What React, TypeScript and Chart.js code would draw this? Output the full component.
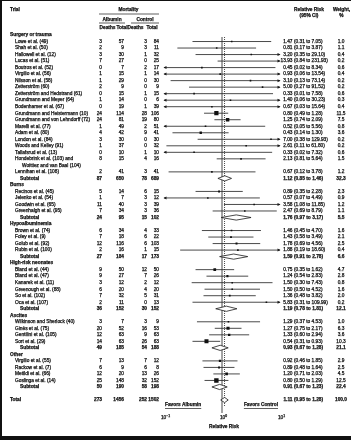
import React, { useEffect, useRef } from "react";
import { Chart, registerables } from "chart.js";

Chart.register(...registerables);

// ---------------- DATA ----------------
const groupNames = ["Surgery or trauma", "Burns", "Hypoalbuminemia", "High-risk neonates", "Ascites", "Other"];

const trialNames = [
  "Lowe et al. (49)", "Shah et al. (50)", "Hallowell et al. (12)", "Lucas et al. (51)", "Boutros et al. (52)",
  "Virgilio et al. (56)", "Nilsson et al. (58)", "Zetterström (60)", "Zetterström and Hedstrand (61)",
  "Grundmann and Meyer (64)", "Bodenhamer et al. (67)", "Grundmann and Heistermann (10)",
  "Grundmann and von Lehndorff (72)", "Marelli et al. (77)", "Adam et al. (80)", "London et al. (84)",
  "Woods and Kelley (91)", "Tallafsrud et al. (13)", "Hondebrink et al. (103) and\nWoittiez and van Baal (104)",
  "Lennihan et al. (108)",
  "Recinos et al. (45)", "Jelenko et al. (54)", "Goodwin et al. (65)", "Greenhalgh et al. (95)",
  "Brown et al. (74)", "Foley et al. (9)", "Golub et al. (92)", "Rubin et al. (100)",
  "Bland et al. (44)", "Bland et al. (47)", "Kanarek et al. (11)", "Greenough et al. (88)", "So et al. (102)", "Oca et al. (107)",
  "Wilkinson and Sherlock (40)", "Ginès et al. (75)", "Gentilini et al. (105)", "Sort et al. (29)",
  "Virgilio et al. (55)", "Rackow et al. (7)", "Metildi et al. (66)", "Goslinga et al. (14)",
];
const trialGroup = [
  0, 0, 0, 0, 0, 0, 0, 0, 0, 0, 0, 0, 0, 0, 0, 0, 0, 0, 0, 0,
  1, 1, 1, 1,
  2, 2, 2, 2,
  3, 3, 3, 3, 3, 3,
  4, 4, 4, 4,
  5, 5, 5, 5,
];
const albuminDeaths = [3, 2, 3, 7, 0, 1, 1, 2, 0, 1, 0, 24, 24, 1, 4, 3, 1, 0, 8, 2, 5, 1, 11, 7, 6, 7, 12, 2, 9, 9, 3, 6, 7, 2, 3, 20, 12, 14, 7, 6, 12, 25];
const albuminTotal = [57, 9, 30, 27, 7, 15, 29, 9, 15, 14, 19, 114, 81, 49, 42, 30, 37, 10, 15, 41, 14, 7, 40, 34, 34, 18, 116, 16, 50, 27, 12, 20, 32, 11, 7, 52, 63, 63, 13, 9, 20, 148];
const controlDeaths = [3, 3, 1, 0, 2, 1, 0, 0, 1, 0, 1, 28, 19, 2, 9, 0, 0, 1, 4, 3, 6, 3, 3, 3, 4, 6, 6, 1, 12, 7, 2, 4, 5, 0, 3, 16, 9, 26, 7, 6, 13, 32];
const controlTotal = [84, 11, 32, 25, 17, 14, 30, 9, 15, 6, 39, 106, 80, 51, 41, 30, 32, 10, 16, 41, 15, 12, 39, 36, 33, 22, 103, 15, 50, 26, 12, 20, 31, 13, 9, 53, 63, 63, 12, 8, 26, 152];
const relRisk = [1.47, 0.81, 3.2, 13.93, 0.45, 0.93, 3.1, 5.0, 0.33, 1.4, 0.67, 0.8, 1.25, 0.52, 0.43, 7.0, 2.61, 0.33, 2.13, 0.67, 0.89, 0.57, 3.58, 2.47, 1.46, 1.43, 1.78, 1.88, 0.75, 1.24, 1.5, 1.5, 1.36, 5.83, 1.29, 1.27, 1.33, 0.54, 0.92, 0.89, 1.2, 0.8];
const ciLower = [0.31, 0.17, 0.35, 0.84, 0.02, 0.06, 0.13, 0.27, 0.01, 0.06, 0.03, 0.49, 0.74, 0.05, 0.14, 0.38, 0.11, 0.02, 0.81, 0.12, 0.35, 0.07, 1.08, 0.69, 0.45, 0.58, 0.69, 0.19, 0.35, 0.54, 0.3, 0.5, 0.48, 0.31, 0.37, 0.75, 0.6, 0.31, 0.46, 0.48, 0.71, 0.5];
const ciUpper = [7.05, 3.87, 29.1, 231.93, 8.34, 13.54, 73.14, 91.52, 7.58, 30.23, 15.64, 1.28, 2.09, 5.56, 1.3, 129.93, 61.8, 7.32, 5.64, 3.78, 2.28, 4.49, 11.85, 8.79, 4.7, 3.49, 4.56, 18.6, 1.62, 2.83, 7.43, 4.52, 3.82, 109.99, 4.53, 2.17, 2.94, 0.93, 1.85, 1.64, 2.03, 1.29];
const weightPct = [1.0, 1.1, 0.4, 0.2, 0.6, 0.4, 0.2, 0.2, 0.6, 0.3, 0.4, 11.5, 7.5, 0.8, 3.6, 0.2, 0.2, 0.6, 1.5, 1.2, 2.3, 0.9, 1.2, 1.1, 1.6, 2.1, 2.5, 0.4, 4.7, 2.8, 0.8, 1.6, 2.0, 0.2, 1.0, 6.3, 3.6, 10.3, 2.9, 2.5, 4.5, 12.5];

const subAlbDeaths = [87, 24, 27, 36, 49, 50];
const subAlbTotal = [650, 95, 184, 152, 185, 190];
const subCtlDeaths = [78, 15, 17, 30, 54, 58];
const subCtlTotal = [689, 102, 173, 152, 188, 198];
const subRR = [1.12, 1.76, 1.59, 1.19, 0.93, 0.91];
const subLower = [0.85, 0.97, 0.91, 0.78, 0.67, 0.67];
const subUpper = [1.46, 3.17, 2.78, 1.81, 1.28, 1.23];
const subWeight = [32.3, 5.5, 6.6, 12.1, 21.1, 22.4];

const totalCounts = [273, 1456, 252, 1502];
const totalRR = 1.11;
const totalLower = 0.95;
const totalUpper = 1.28;
const totalWeight = 100.0;

const axisMin = 0.1;
const axisMax = 10;
const tickValues = [0.1, 1, 10];
const tickExponents = ["−1", "0", "1"];

// ---------------- LAYOUT OF ROWS ----------------
type RowItem = { kind: "group" | "trial" | "subtotal" | "total"; row: number; i: number };
const rowItems: RowItem[] = [];
let rr = 0;
groupNames.forEach((_, gi) => {
  rowItems.push({ kind: "group", row: rr++, i: gi });
  trialNames.forEach((n, ti) => {
    if (trialGroup[ti] !== gi) return;
    rowItems.push({ kind: "trial", row: rr, i: ti });
    rr += n.split("\n").length;
  });
  rowItems.push({ kind: "subtotal", row: rr++, i: gi });
});
rr++;
rowItems.push({ kind: "total", row: rr, i: 0 });
const lastRow = rr;

const FONT = '"Liberation Sans", Arial, Helvetica, sans-serif';
const INK = "#111";

const f2 = (v: number) => v.toFixed(2);
const f1 = (v: number) => v.toFixed(1);

function drawText(ctx: CanvasRenderingContext2D, s: string, x: number, y: number, size: number, align: CanvasTextAlign = "left", weight = "normal") {
  ctx.font = `${weight} ${size}px ${FONT}`;
  ctx.textAlign = align;
  ctx.textBaseline = "middle";
  ctx.fillStyle = INK;
  ctx.fillText(s, x, y);
  ctx.strokeStyle = INK;
  ctx.lineWidth = 0.25;
  ctx.strokeText(s, x, y);
}

function hline(ctx: CanvasRenderingContext2D, x1: number, x2: number, y: number) {
  ctx.beginPath();
  ctx.moveTo(x1, y);
  ctx.lineTo(x2, y);
  ctx.stroke();
}

const COL_AD = 102;
const COL_AT = 124;
const COL_CD = 147;
const COL_CT = 159;
const COL_RR = 292.5;
const COL_CI = 294;
const COL_W = 341;
const FS = 4.8;

const forestPlugin = {
  id: "forest",
  beforeDatasetsDraw(chart: any) {
    const { ctx } = chart;
    const xs = chart.scales.x;
    const ys = chart.scales.y;
    ctx.save();
    // reference lines
    ctx.strokeStyle = "#1a1a1a";
    ctx.lineWidth = 0.8;
    const x1 = xs.getPixelForValue(1);
    ctx.beginPath();
    ctx.moveTo(x1, ys.getPixelForValue(0) + 2);
    ctx.lineTo(x1, 413);
    ctx.stroke();
    const xd = xs.getPixelForValue(totalRR);
    ctx.setLineDash([1, 1]);
    ctx.beginPath();
    ctx.moveTo(xd, ys.getPixelForValue(0) + 2);
    ctx.lineTo(xd, 407);
    ctx.stroke();
    ctx.setLineDash([]);

    // confidence intervals
    const left = xs.getPixelForValue(axisMin);
    const right = xs.getPixelForValue(axisMax);
    ctx.strokeStyle = "#2a2a2a";
    ctx.fillStyle = "#1a1a1a";
    ctx.lineWidth = 0.85;
    rowItems.forEach((it) => {
      if (it.kind !== "trial") return;
      const y = ys.getPixelForValue(it.row);
      const lo = xs.getPixelForValue(Math.max(ciLower[it.i], axisMin));
      const hi = xs.getPixelForValue(Math.min(ciUpper[it.i], axisMax));
      hline(ctx, lo, hi, y);
      if (ciUpper[it.i] > axisMax) {
        ctx.beginPath();
        ctx.moveTo(right + 0.5, y);
        ctx.lineTo(right - 2.5, y - 1.5);
        ctx.lineTo(right - 2.5, y + 1.5);
        ctx.closePath();
        ctx.fill();
      }
      if (ciLower[it.i] < axisMin) {
        ctx.beginPath();
        ctx.moveTo(left - 0.5, y);
        ctx.lineTo(left + 2.5, y - 1.5);
        ctx.lineTo(left + 2.5, y + 1.5);
        ctx.closePath();
        ctx.fill();
      }
    });
    ctx.restore();
  },
  afterDatasetsDraw(chart: any) {
    const { ctx } = chart;
    const xs = chart.scales.x;
    const ys = chart.scales.y;
    ctx.save();

    const diamond = (est: number, lo: number, hi: number, row: number) => {
      const y = ys.getPixelForValue(row);
      const pl = xs.getPixelForValue(lo);
      const pe = xs.getPixelForValue(est);
      const ph = xs.getPixelForValue(hi);
      ctx.beginPath();
      ctx.moveTo(pl, y);
      ctx.lineTo(pe, y - 2.6);
      ctx.lineTo(ph, y);
      ctx.lineTo(pe, y + 2.6);
      ctx.closePath();
      ctx.fillStyle = "#fff";
      ctx.fill();
      ctx.strokeStyle = "#1a1a1a";
      ctx.lineWidth = 0.8;
      ctx.stroke();
    };

    // header
    drawText(ctx, "Trial", 10, 10, FS, "left", "bold");
    drawText(ctx, "Mortality", 128.5, 10, FS, "center", "bold");
    ctx.strokeStyle = "#1a1a1a";
    ctx.lineWidth = 0.7;
    hline(ctx, 99, 159, 14);
    drawText(ctx, "Albumin", 112, 19.5, FS, "center", "bold");
    drawText(ctx, "Control", 145, 19.5, FS, "center", "bold");
    ctx.strokeStyle = "#1a1a1a";
    ctx.lineWidth = 0.7;
    hline(ctx, 99, 125, 23);
    hline(ctx, 131, 159, 23);
    drawText(ctx, "Deaths", 107.5, 27.5, FS, "center", "bold");
    drawText(ctx, "Total", 122, 27.5, FS, "center", "bold");
    drawText(ctx, "Deaths", 135.5, 27.5, FS, "center", "bold");
    drawText(ctx, "Total", 152, 27.5, FS, "center", "bold");
    drawText(ctx, "Relative Risk", 309, 10, FS, "center", "bold");
    drawText(ctx, "(95% CI)", 309, 16, FS, "center", "bold");
    drawText(ctx, "Weight,", 341.5, 10, FS, "center", "bold");
    drawText(ctx, "%", 341.5, 16, FS, "center", "bold");

    const nums = (y: number, a: number, b: number, c: number, d: number, w = "normal") => {
      drawText(ctx, String(a), COL_AD, y, FS, "right", w);
      drawText(ctx, String(b), COL_AT, y, FS, "right", w);
      drawText(ctx, String(c), COL_CD, y, FS, "right", w);
      drawText(ctx, String(d), COL_CT, y, FS, "right", w);
    };
    const rrText = (y: number, est: number, lo: number, hi: number, wt: number, w = "normal") => {
      drawText(ctx, f2(est), COL_RR, y, FS, "right", w);
      drawText(ctx, `(${f2(lo)} to ${f2(hi)})`, COL_CI, y, FS, "left", w);
      drawText(ctx, f1(wt), COL_W, y, FS, "center", w);
    };

    const step = ys.getPixelForValue(1) - ys.getPixelForValue(0);
    rowItems.forEach((it) => {
      const y = ys.getPixelForValue(it.row);
      if (it.kind === "group") {
        drawText(ctx, groupNames[it.i], 10, y, FS, "left", "bold");
      } else if (it.kind === "trial") {
        const lines = trialNames[it.i].split("\n");
        lines.forEach((ln, k) => drawText(ctx, ln, k === 0 ? 15 : 22, y + k * step, FS));
        nums(y, albuminDeaths[it.i], albuminTotal[it.i], controlDeaths[it.i], controlTotal[it.i]);
        rrText(y, relRisk[it.i], ciLower[it.i], ciUpper[it.i], weightPct[it.i]);
      } else if (it.kind === "subtotal") {
        drawText(ctx, "Subtotal", 20, y, FS, "left", "bold");
        nums(y, subAlbDeaths[it.i], subAlbTotal[it.i], subCtlDeaths[it.i], subCtlTotal[it.i], "bold");
        rrText(y, subRR[it.i], subLower[it.i], subUpper[it.i], subWeight[it.i], "bold");
        diamond(subRR[it.i], subLower[it.i], subUpper[it.i], it.row);
      } else {
        drawText(ctx, "Total", 10, y, FS, "left", "bold");
        nums(y, totalCounts[0], totalCounts[1], totalCounts[2], totalCounts[3], "bold");
        rrText(y, totalRR, totalLower, totalUpper, totalWeight, "bold");
        diamond(totalRR, totalLower, totalUpper, it.row);
      }
    });

    // favors labels
    const left = xs.getPixelForValue(axisMin);
    const right = xs.getPixelForValue(axisMax);
    ctx.font = `bold ${FS}px ${FONT}`;
    const wa = ctx.measureText("Favors Albumin").width;
    const wc = ctx.measureText("Favors Control").width;
    drawText(ctx, "Favors Albumin", left + 1, 405, FS, "left", "bold");
    drawText(ctx, "Favors Control", right - 2, 405, FS, "right", "bold");
    ctx.lineWidth = 0.7;
    ctx.strokeStyle = "#1a1a1a";
    hline(ctx, left + 1, left + 1 + wa, 408.5);
    hline(ctx, right - 2 - wc, right - 2, 408.5);

    // tick labels
    tickValues.forEach((v, k) => {
      const px = xs.getPixelForValue(v);
      ctx.font = `${FS}px ${FONT}`;
      const wb = ctx.measureText("10").width;
      ctx.font = `${FS * 0.7}px ${FONT}`;
      const ws = ctx.measureText(tickExponents[k]).width;
      const start = px - (wb + ws) / 2 + 1.5;
      drawText(ctx, "10", start, 418, FS, "left");
      drawText(ctx, tickExponents[k], start + wb, 416.3, FS * 0.7, "left");
    });
    drawText(ctx, "Relative Risk", xs.getPixelForValue(1) + 2, 427, FS, "center", "bold");
    ctx.restore();
  },
};

const trialRows = rowItems.filter((it) => it.kind === "trial");
const points = trialRows.map((it) => ({ x: relRisk[it.i], y: it.row }));
const radii = trialRows.map((it) => Math.max(1.6, 1.25 * Math.sqrt(weightPct[it.i])) / Math.SQRT2);

export default function App() {
  const ref = useRef<HTMLCanvasElement>(null);
  useEffect(() => {
    document.body.style.margin = "0";
    const canvas = ref.current!;
    const rowTop = 35;
    const rowBottom = 400;
    const stepPx = (rowBottom - rowTop) / lastRow;
    const chart = new Chart(canvas, {
      type: "scatter",
      data: {
        datasets: [
          {
            data: points,
            pointStyle: "rect",
            pointRadius: radii,
            pointHoverRadius: radii,
            backgroundColor: "#111",
            borderColor: "#111",
            borderWidth: 0,
            clip: { left: 0, right: 0, top: 10, bottom: 10 } as any,
          },
        ],
      },
      options: {
        responsive: false,
        maintainAspectRatio: false,
        animation: false,
        events: [],
        layout: {
          padding: { left: 164, right: 351 - 280, top: rowTop - stepPx, bottom: 440 - (rowBottom + stepPx) },
        },
        scales: {
          x: { type: "logarithmic", min: axisMin, max: axisMax, display: false },
          y: { type: "linear", min: -1, max: lastRow + 1, reverse: true, display: false },
        },
        plugins: { legend: { display: false }, tooltip: { enabled: false }, title: { display: false } },
      },
      plugins: [forestPlugin],
    } as any);
    return () => chart.destroy();
  }, []);
  return (
    <div style={{ position: "relative", width: 351, height: 440, background: "#fff", overflow: "hidden" }}>
      <canvas ref={ref} width={351} height={440} style={{ display: "block", width: 351, height: 440 }} />
      <div
        style={{
          position: "absolute",
          inset: 0,
          borderLeft: "2px solid #111",
          borderTop: "1px solid #111",
          borderBottom: "4px solid #111",
          pointerEvents: "none",
        }}
      />
    </div>
  );
}
